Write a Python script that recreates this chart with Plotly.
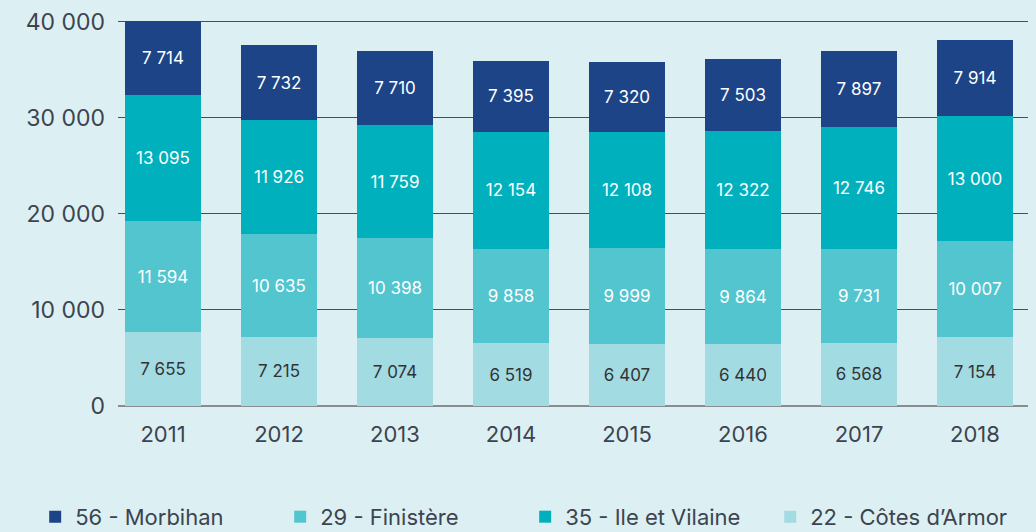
import plotly.graph_objects as go

years = ["2011", "2012", "2013", "2014", "2015", "2016", "2017", "2018"]
cotes_armor = [7655, 7215, 7074, 6519, 6407, 6440, 6568, 7154]
finistere = [11594, 10635, 10398, 9858, 9999, 9864, 9731, 10007]
ile_vilaine = [13095, 11926, 11759, 12154, 12108, 12322, 12746, 13000]
morbihan = [7714, 7732, 7710, 7395, 7320, 7503, 7897, 7914]

FONT = "Inter"
BG = "#dcf0f3"

series = [
    ("22 - Côtes d’Armor", cotes_armor, "#a3dbe3", "#333333", 4),
    ("29 - Finistère", finistere, "#52c5cf", "#ffffff", 2),
    ("35 - Ile et Vilaine", ile_vilaine, "#00b1bd", "#ffffff", 3),
    ("56 - Morbihan", morbihan, "#1c4487", "#ffffff", 1),
]

fig = go.Figure()
for name, vals, color, tcolor, rank in series:
    fig.add_trace(go.Bar(
        x=list(range(len(years))), y=vals, name=name,
        marker=dict(color=color, line=dict(width=0)),
        width=0.655,
        texttemplate="%{y:,}", textposition="inside", insidetextanchor="middle",
        textangle=0, constraintext="none",
        textfont=dict(family=FONT, size=17, color=tcolor),
        legendrank=rank,
    ))

fig.update_layout(
    barmode="stack",
    separators=", ",
    width=1036, height=532,
    paper_bgcolor=BG, plot_bgcolor=BG,
    margin=dict(l=118, r=8, t=10, b=126, autoexpand=False),
    font=dict(family=FONT, color="#3d4450"),
    xaxis=dict(
        range=[-0.388, 7.457], tickmode="array",
        tickvals=list(range(len(years))), ticktext=years,
        tickfont=dict(size=22), showgrid=False, ticks="", ticklen=0,
        ticklabelstandoff=13,
        showline=False, zeroline=False, automargin=False,
    ),
    yaxis=dict(
        range=[0, 41200], tickvals=[0, 10000, 20000, 30000, 40000],
        tickformat=",", tickfont=dict(size=23),
        showgrid=True, gridcolor="#4a4f55", gridwidth=1,
        zeroline=True, zerolinecolor="#8a8d90", zerolinewidth=2,
        ticks="", ticklabelstandoff=12, automargin=False,
    ),
    legend=dict(
        orientation="h", x=-0.091, xanchor="left",
        y=-0.28, yanchor="middle",
        font=dict(size=22), itemsizing="constant",
        entrywidth=200, entrywidthmode="pixels", traceorder="normal",
    ),
)

# page body has an 8px default margin; drop it so the figure fills the window
fig.write_html("out.html", config={"displayModeBar": False},
               post_script="document.body.style.margin='0';")
